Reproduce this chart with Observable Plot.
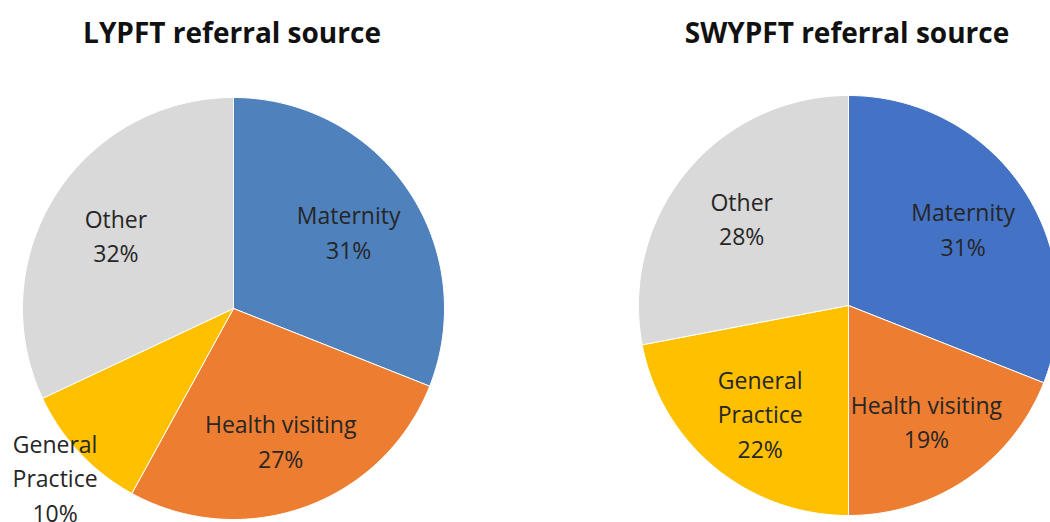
<!DOCTYPE html>
<html><head><meta charset="utf-8">
<script src="https://cdn.jsdelivr.net/npm/d3@7"></script>
<script src="https://cdn.jsdelivr.net/npm/@observablehq/plot@0.6"></script>
<style>
html,body{margin:0;padding:0;background:#fff;overflow:hidden;}
#wrap{display:flex;width:1050px;height:522px;}
.panel{position:relative;width:525px;height:522px;flex:none;}
.title{position:absolute;top:0;height:62px;line-height:64px;text-align:center;font-family:"Open Sans";font-weight:bold;font-size:28px;color:#111;white-space:nowrap;}
.panel svg{position:absolute;top:62px;left:0;}
</style></head><body>
<div id="wrap">
  <div class="panel" id="p1"><div class="title" style="left:0;width:464px">LYPFT referral source</div></div>
  <div class="panel" id="p2"><div class="title" style="left:0;width:644px">SWYPFT referral source</div></div>
</div>
<script>
const categories = ["Maternity", "Health visiting", "General Practice", "Other"];
const labelText = ["Maternity", "Health visiting", "General\nPractice", "Other"];
const lypftValues = [31, 27, 10, 32];
const swypftValues = [31, 19, 22, 28];
const lypftColors = ["#4F81BD", "#ED7D31", "#FFC000", "#D9D9D9"];
const swypftColors = ["#4472C4", "#ED7D31", "#FFC000", "#D9D9D9"];

function slices(values) {
  const total = d3.sum(values);
  let cum = 0;
  const polys = [], labels = [];
  values.forEach((v, i) => {
    const a0 = cum / total * 2 * Math.PI;
    cum += v;
    const a1 = cum / total * 2 * Math.PI;
    const n = Math.max(2, Math.ceil((a1 - a0) / (Math.PI / 180)));
    polys.push({cat: categories[i], x: 0, y: 0});
    for (let k = 0; k <= n; k++) {
      const a = a0 + (a1 - a0) * k / n;
      polys.push({cat: categories[i], x: Math.sin(a), y: Math.cos(a)});
    }
    polys.push({cat: categories[i], x: 0, y: 0});
    const am = (a0 + a1) / 2;
    const f = v / total < 0.12 ? 1.16 : 0.66;
    labels.push({text: labelText[i] + "\n" + v + "%", x: f * Math.sin(am), y: f * Math.cos(am)});
  });
  return {polys, labels};
}

function pie(values, colors, m) {
  const {polys, labels} = slices(values);
  return Plot.plot({
    width: 525, height: 460,
    marginLeft: m.l, marginRight: m.r, marginTop: m.t, marginBottom: m.b,
    x: {domain: [-1, 1], axis: null},
    y: {domain: [-1, 1], axis: null},
    color: {domain: categories, range: colors},
    style: {fontFamily: "Open Sans", background: "transparent", overflow: "visible"},
    marks: [
      Plot.line(polys, {x: "x", y: "y", z: "cat", fill: "cat", stroke: "white", strokeWidth: 1}),
      Plot.text(labels, {x: "x", y: "y", text: "text", fontSize: 23, lineHeight: 1.5, fill: "#262626"})
    ]
  });
}

document.getElementById("p1").appendChild(pie(lypftValues, lypftColors, {l: 22, r: 81, t: 35, b: 3}));
document.getElementById("p2").appendChild(pie(swypftValues, swypftColors, {l: 113, r: -8, t: 33, b: 7}));
</script>
</body></html>
